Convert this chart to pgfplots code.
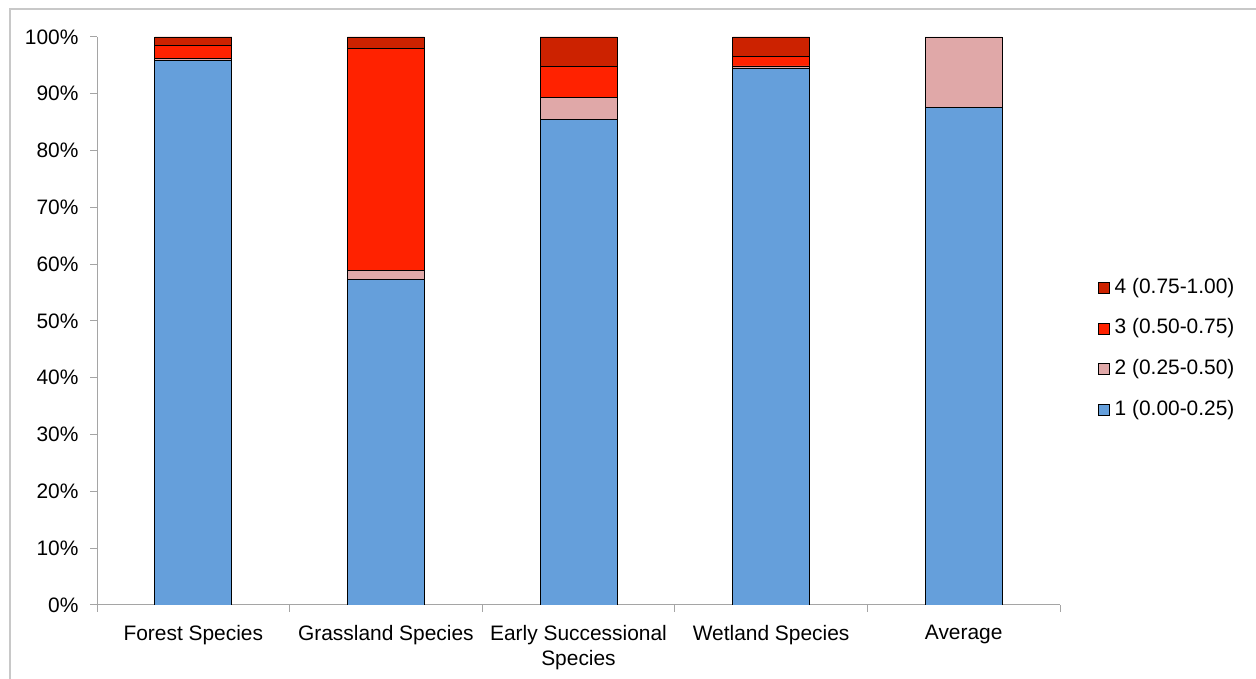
\documentclass[border=0pt]{standalone}
\usepackage{fontspec}
\setmainfont{Liberation Sans}
\usepackage{pgfplots}
\pgfplotsset{compat=1.18}
\definecolor{cblue}{RGB}{101,159,219}
\definecolor{cpink}{RGB}{224,168,168}
\definecolor{cred}{RGB}{255,34,0}
\definecolor{cdark}{RGB}{204,34,0}
\definecolor{axgray}{RGB}{165,165,165}
\definecolor{framegray}{RGB}{200,200,200}
\begin{document}
\begin{tikzpicture}[x=1bp,y=1bp]
\useasboundingbox (0,0) rectangle (1256,679);
\draw[framegray, line width=1.5bp] (10,0) -- (10,670) -- (1256,670);
\begin{axis}[
  at={(97bp,74bp)}, anchor=south west,
  scale only axis, width=963bp, height=568bp,
  ybar stacked, bar width=77bp,
  xmin=-0.5, xmax=4.5, ymin=0, ymax=100,
  axis x line*=bottom, axis y line*=left,
  axis line style={axgray, line width=1bp},
  every axis plot/.append style={draw=black, line width=0.9bp},
  xtick={0,1,2,3,4},
  xticklabels={Forest Species, Grassland Species, {Early Successional\\Species}, Wetland Species, Average},
  major x tick style={draw=none},
  minor xtick={-0.5,0.5,1.5,2.5,3.5,4.5},
  minor x tick style={axgray, line width=1bp},
  minor tick length=7bp,
  ytick={0,10,...,100},
  yticklabels={0\%,10\%,20\%,30\%,40\%,50\%,60\%,70\%,80\%,90\%,100\%},
  major y tick style={axgray, line width=1bp},
  major tick length=7bp,
  tick align=outside,
  tick label style={font=\fontsize{21}{25}\selectfont},
  xticklabel style={align=center, anchor=north, yshift=-10bp},
  yticklabel style={anchor=east, xshift=-8bp},
  legend style={draw=none, fill=none, at={(1.036,0.451)}, anchor=west,
    font=\fontsize{21}{24}\selectfont, row sep=21.7bp,
    nodes={inner sep=0pt, text height=15bp, text depth=4bp}},
  legend cell align=left,
  reverse legend,
  legend image code/.code={\draw[#1, line width=0.8bp] (0bp,-5.5bp) rectangle (11bp,5.5bp);},
  legend style={/tikz/every even column/.append style={column sep=0bp}},
]
\addplot[fill=cblue] coordinates {(0,95.8) (1,57.3) (2,85.5) (3,94.4) (4,87.6)};
\addplot[fill=cpink] coordinates {(0,0.4) (1,1.6) (2,3.8) (3,0.5) (4,12.4)};
\addplot[fill=cred] coordinates {(0,2.3) (1,39.0) (2,5.5) (3,1.6) (4,0)};
\addplot[fill=cdark] coordinates {(0,1.5) (1,2.1) (2,5.2) (3,3.5) (4,0)};
\legend{\hspace{5bp}1 (0.00-0.25),\hspace{5bp}2 (0.25-0.50),\hspace{5bp}3 (0.50-0.75),\hspace{5bp}4 (0.75-1.00)}
\end{axis}
\end{tikzpicture}
\end{document}
